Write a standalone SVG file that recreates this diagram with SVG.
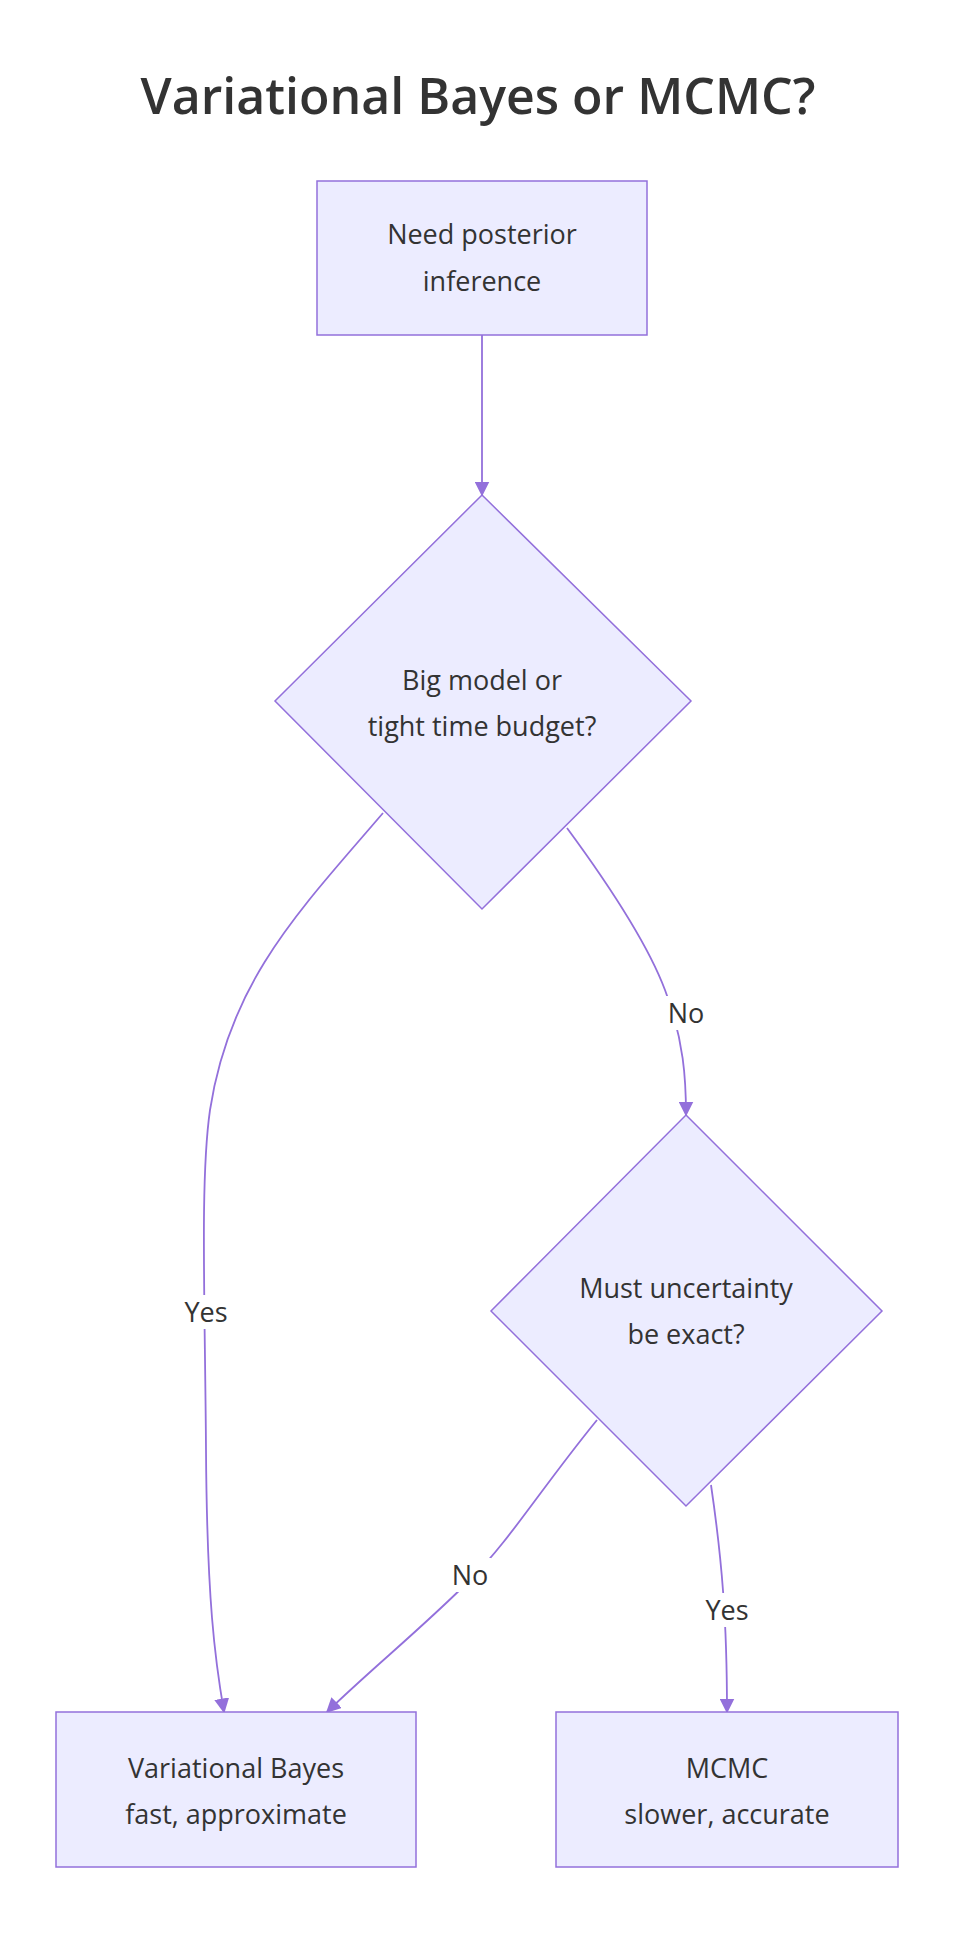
<svg xmlns="http://www.w3.org/2000/svg" width="962" height="1940" viewBox="0 0 962 1940">
<style>
.n{fill:#ECECFF;stroke:#9370DB;stroke-width:1.5}
.t{font-family:"Open Sans","Liberation Sans",sans-serif;font-size:27px;fill:#333;text-anchor:middle}
.e{fill:none;stroke:#9370DB;stroke-width:1.8;marker-end:url(#a)}
.lb{fill:#fff}
</style>
<defs><marker id="a" viewBox="0 0 10 10" refX="9" refY="5" markerWidth="15" markerHeight="15" orient="auto" markerUnits="userSpaceOnUse"><path d="M0,0L10,5L0,10z" fill="#9370DB"/></marker></defs>
<rect width="962" height="1940" fill="#fff"/>
<text x="478" y="114" font-family="'Open Sans','Liberation Sans',sans-serif" font-size="50" font-weight="600" fill="#333" text-anchor="middle">Variational Bayes or MCMC?</text>
<g id="edges">
<path class="e" d="M482,335V495"/>
<path class="e" d="M383,813C300,910 230,980 210,1110 C200,1180 205,1300 206,1450 C207,1600 215,1660 224,1712"/>
<path class="e" d="M567,828C620,900 650,950 665,990 C684,1040 686,1080 686,1115"/>
<path class="e" d="M597,1420C540,1490 510,1540 470,1580 C420,1630 370,1670 327,1712"/>
<path class="e" d="M711,1485C722,1560 727,1620 727,1712"/>
<rect class="lb" x="186" y="1295" width="42" height="34"/><text class="t" x="206" y="1322">Yes</text>
<rect class="lb" x="665" y="996" width="42" height="34"/><text class="t" x="686" y="1023">No</text>
<rect class="lb" x="449" y="1558" width="42" height="34"/><text class="t" x="470" y="1585">No</text>
<rect class="lb" x="706" y="1593" width="42" height="34"/><text class="t" x="727" y="1620">Yes</text>
</g>
<g id="start"><rect class="n" x="317" y="181" width="330" height="154"/><text class="t" x="482" y="244">Need posterior</text><text class="t" x="482" y="291">inference</text></g>
<g id="d1"><path class="n" d="M482,495L691,701L482,909L275,701z"/><text class="t" x="482" y="690">Big model or</text><text class="t" x="482" y="736">tight time budget?</text></g>
<g id="d2"><path class="n" d="M686,1115L882,1311L686,1506L491,1311z"/><text class="t" x="686" y="1298">Must uncertainty</text><text class="t" x="686" y="1344">be exact?</text></g>
<g id="vb"><rect class="n" x="56" y="1712" width="360" height="155"/><text class="t" x="236" y="1778">Variational Bayes</text><text class="t" x="236" y="1824">fast, approximate</text></g>
<g id="mcmc"><rect class="n" x="556" y="1712" width="342" height="155"/><text class="t" x="727" y="1778">MCMC</text><text class="t" x="727" y="1824">slower, accurate</text></g>
</svg>
